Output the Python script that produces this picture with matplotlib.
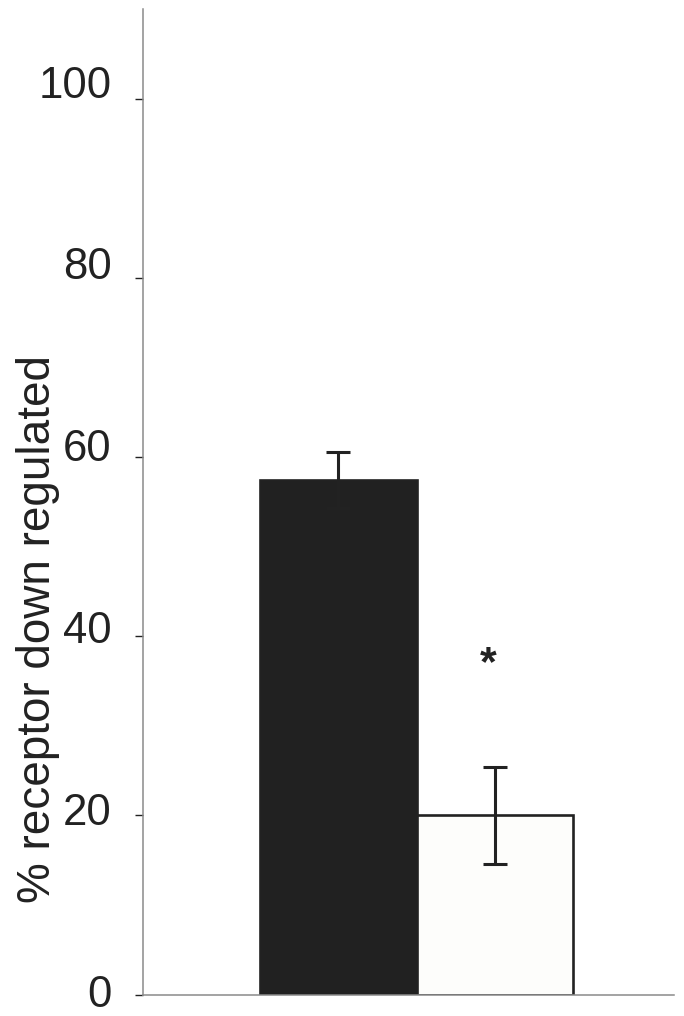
import matplotlib
matplotlib.use("Agg")
import matplotlib.pyplot as plt

plt.rcParams['font.family'] = ['Liberation Sans', 'DejaVu Sans']

# Data
groups = ["control", "treated"]
values = [57.4, 20.0]
errors = [3.1, 5.4]
bar_faces = ["#212121", "#fdfdfb"]
yticks = [0, 20, 40, 60, 80, 100]
ylabel = "% receptor down regulated"
sig_label = "*"
sig_y = 35.7

fig = plt.figure(figsize=(6.84, 10.16), dpi=100)
ax = fig.add_axes([143/684, 21.5/1016, 531/684, 985.5/1016])

x = list(range(len(groups)))
ax.bar(x, values, width=1.0, color=bar_faces, edgecolor="#222222",
       linewidth=1.9, zorder=2)
ax.errorbar(x, values, yerr=errors, fmt='none', ecolor="#222222",
            elinewidth=2.2, capsize=8.3, capthick=2.2, zorder=3)

ax.text(x[1] - 0.04, sig_y, sig_label, ha='center', va='baseline',
        fontsize=31, fontweight='bold', color="#222222")

ax.set_xlim(-1.249, 2.144)
ax.set_ylim(0, 110)
ax.set_xticks([])
ax.set_yticks(yticks)
ax.set_yticklabels([])
ax.tick_params(axis='y', direction='out', length=5.8, width=1.0,
               color="#222222")

for v in yticks:
    ax.annotate(str(v), xy=(0, v), xycoords=('axes fraction', 'data'),
                xytext=(-22.5, -(12.5 - 0.135 * v) * 0.72),
                textcoords='offset points', ha='right', va='baseline',
                fontsize=31.5, color="#222222")

for s in ['top', 'right']:
    ax.spines[s].set_visible(False)
for s in ['left', 'bottom']:
    ax.spines[s].set_color("#8a8a8a")
    ax.spines[s].set_linewidth(1.1)

ax.set_ylabel(ylabel, fontsize=33, color="#222222")
ax.yaxis.set_label_coords(-0.157, 0.371)

fig.savefig("out.png", dpi=100)
